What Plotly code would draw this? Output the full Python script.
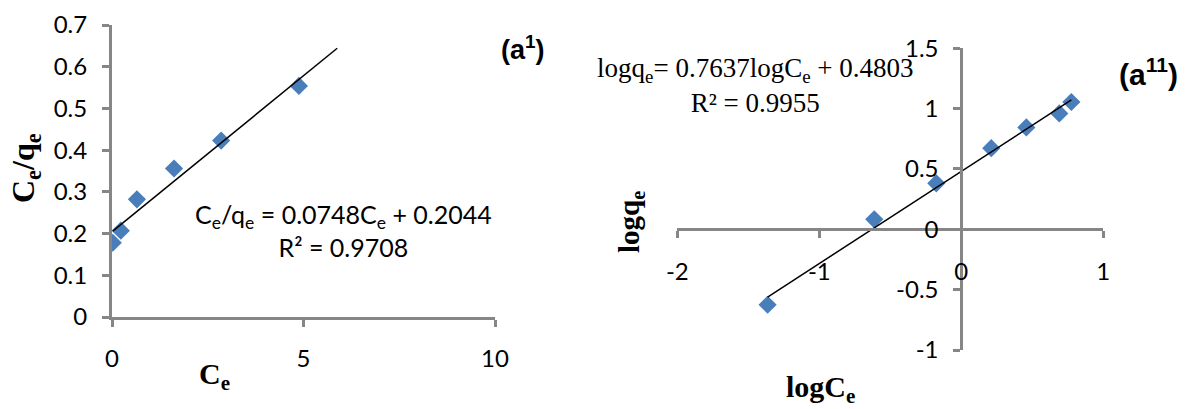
import plotly.graph_objects as go

# ---------------- data ----------------
ce = [0.02, 0.23, 0.65, 1.62, 2.85, 4.88]
ce_over_qe = [0.178, 0.207, 0.282, 0.356, 0.423, 0.554]
slope_a, intercept_a = 0.0748, 0.2044
r2_a = 0.9708
forward_a = 1.0

log_ce = [-1.364, -0.613, -0.176, 0.211, 0.458, 0.69, 0.775]
log_qe = [-0.625, 0.083, 0.381, 0.672, 0.844, 0.96, 1.055]
slope_b, intercept_b = 0.7637, 0.4803
r2_b = 0.9955

x_ticks_a = [0, 5, 10]
y_ticks_a = [0, 0.1, 0.2, 0.3, 0.4, 0.5, 0.6, 0.7]
x_ticks_b = [-2, -1, 0, 1]
y_ticks_b = [-1, -0.5, 0, 0.5, 1, 1.5]

# ---------------- layout helpers ----------------
W, H = 1188, 409
def fx(p):
    return p / W
def fy(p):
    return 1 - p / H

def lab(v):
    return f"{v:g}"

AXC = "#868686"
MK = "#4a7ebb"
TICKFONT = dict(family="Lato", size=24, color="#000000")

fig = go.Figure()

# left panel
fig.add_trace(go.Scatter(x=ce, y=ce_over_qe, mode="markers",
                         marker=dict(symbol="diamond", size=14, color=MK),
                         xaxis="x", yaxis="y", showlegend=False))
tx_a = [min(ce), max(ce) + forward_a]
fig.add_trace(go.Scatter(x=tx_a, y=[slope_a * v + intercept_a for v in tx_a], mode="lines",
                         line=dict(color="black", width=1.5),
                         xaxis="x", yaxis="y", showlegend=False))

# right panel
fig.add_trace(go.Scatter(x=log_ce, y=log_qe, mode="markers",
                         marker=dict(symbol="diamond", size=14, color=MK),
                         xaxis="x2", yaxis="y2", showlegend=False))
tx_b = [min(log_ce), max(log_ce)]
fig.add_trace(go.Scatter(x=tx_b, y=[slope_b * v + intercept_b for v in tx_b], mode="lines",
                         line=dict(color="black", width=1.5),
                         xaxis="x2", yaxis="y2", showlegend=False))

xa_dom = [fx(112), fx(495)]
ya_dom = [fy(317), fy(25)]
xb_dom = [fx(677.3), fx(1103.3)]
yb_dom = [fy(350), fy(48.3)]
xb_rng = [x_ticks_b[0], x_ticks_b[-1]]
yb_rng = [y_ticks_b[0], y_ticks_b[-1]]

# position of crossing axes (at zero) for right panel
yb_zero = yb_dom[0] + (0 - yb_rng[0]) / (yb_rng[1] - yb_rng[0]) * (yb_dom[1] - yb_dom[0])
xb_zero = xb_dom[0] + (0 - xb_rng[0]) / (xb_rng[1] - xb_rng[0]) * (xb_dom[1] - xb_dom[0])

common = dict(showgrid=False, zeroline=False, showline=True, linecolor=AXC, linewidth=3,
              ticks="outside", tickcolor=AXC, tickwidth=3, ticklen=7,
              tickfont=TICKFONT, automargin=False, fixedrange=True)

fig.update_layout(
    width=W, height=H,
    margin=dict(l=0, r=0, t=0, b=0),
    paper_bgcolor="white", plot_bgcolor="white",
    xaxis=dict(domain=xa_dom, range=[x_ticks_a[0], x_ticks_a[-1]], tickvals=x_ticks_a,
               ticktext=[lab(v) for v in x_ticks_a],
               anchor="y", ticklabelstandoff=11, **common),
    yaxis=dict(domain=ya_dom, range=[y_ticks_a[0], y_ticks_a[-1]], tickvals=y_ticks_a,
               ticktext=[lab(v) for v in y_ticks_a],
               anchor="x", ticklabelstandoff=10, **common),
    xaxis2=dict(domain=xb_dom, range=xb_rng, tickvals=x_ticks_b,
                ticktext=[lab(v) for v in x_ticks_b],
                anchor="free", position=yb_zero, ticklabelstandoff=13, **common),
    yaxis2=dict(domain=yb_dom, range=yb_rng, tickvals=y_ticks_b,
                ticktext=[lab(v) for v in y_ticks_b],
                anchor="free", position=xb_zero, ticklabelstandoff=10, **common),
)

TITLE = dict(family="Liberation Serif", size=30, color="#000000")
ann = []
ann.append(dict(text="<b>C<sub>e</sub>/q<sub>e</sub></b>", x=fx(25), y=fy(168), textangle=-90,
                font=dict(family="Liberation Serif", size=32, color="#000000")))
ann.append(dict(text="<b>C<sub>e</sub></b>", x=fx(214), y=fy(376), font=TITLE))
ann.append(dict(text="<b>logq<sub>e</sub></b>", x=fx(631), y=fy(222), textangle=-90,
                font=dict(family="Liberation Serif", size=29, color="#000000")))
ann.append(dict(text="<b>logC<sub>e</sub></b>", x=fx(820), y=fy(389), font=TITLE))

ann.append(dict(text=f"C<sub>e</sub>/q<sub>e</sub> = {slope_a}C<sub>e</sub> + {intercept_a}<br>R² = {r2_a}",
                x=fx(343), y=fy(230), align="center",
                font=dict(family="Lato", size=25, color="#000000")))
ann.append(dict(text=f"logq<sub>e</sub>= {slope_b}logC<sub>e</sub> + {intercept_b}<br>R² = {r2_b}",
                x=fx(755), y=fy(86), align="center",
                font=dict(family="Liberation Serif", size=27, color="#000000")))

ann.append(dict(text="<b>(a<sup>1</sup>)</b>", x=fx(523), y=fy(48),
                font=dict(family="Liberation Sans", size=27, color="#000000")))
ann.append(dict(text="<b>(a<sup>11</sup>)</b>", x=fx(1148), y=fy(72),
                font=dict(family="Liberation Sans", size=30, color="#000000")))

for a in ann:
    a.update(xref="paper", yref="paper", showarrow=False, xanchor="center", yanchor="middle")
fig.update_layout(annotations=ann)

fig.write_html("out.html", config={"displayModeBar": False},
               post_script="document.body.style.margin='0';document.body.style.overflow='hidden';")
